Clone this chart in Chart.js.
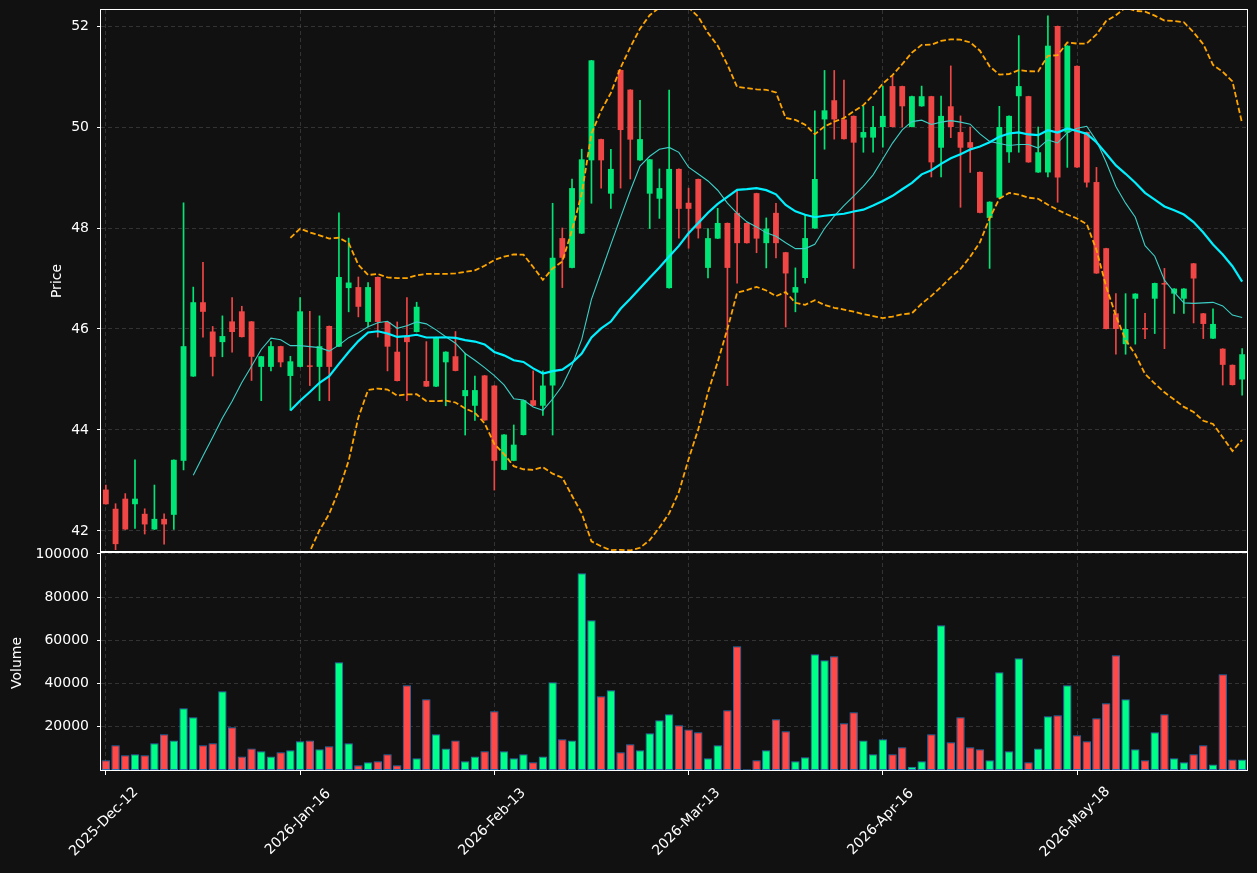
<!DOCTYPE html>
<html>
<head>
<meta charset="utf-8">
<title>Price and volume</title>
<script src="https://cdn.jsdelivr.net/npm/chart.js@4.4.1/dist/chart.umd.min.js"></script>
<style>
  html, body { margin: 0; padding: 0; background: #111111; }
  #wrap { width: 1257px; height: 873px; }
</style>
</head>
<body>
<div id="wrap"><canvas id="chart" width="1257" height="873"></canvas></div>
<script>
// dates shown on the x axis, one every 20 sessions
var anchorDates = ["2025-12-12", "2026-01-16", "2026-02-13", "2026-03-13", "2026-04-16", "2026-05-18"];

var openP = [
  42.82, 42.44, 42.64, 42.53, 42.34, 42.03, 42.24, 42.32, 43.39, 45.06,
  46.53, 45.95, 45.74, 46.15, 46.35, 46.15, 45.25, 45.25, 45.66, 45.07,
  45.25, 45.27, 45.25, 46.06, 45.65, 46.81, 46.83, 46.14, 47.03, 46.14,
  45.55, 45.86, 45.94, 44.97, 44.86, 45.34, 45.46, 44.67, 44.48, 45.08,
  44.88, 43.21, 43.39, 43.90, 44.59, 44.48, 44.88, 47.80, 47.21, 47.89,
  49.34, 49.76, 48.68, 51.13, 50.74, 49.34, 48.68, 48.58, 46.81, 49.17,
  48.50, 48.97, 47.21, 47.79, 48.10, 48.30, 48.10, 48.69, 47.70, 48.30,
  47.52, 46.72, 47.01, 47.99, 50.15, 50.53, 50.15, 50.22, 49.79, 49.79,
  50.00, 50.81, 50.81, 50.00, 50.41, 50.61, 49.59, 50.41, 49.90, 49.70,
  49.11, 48.20, 48.60, 49.50, 50.61, 50.61, 49.10, 49.10, 52.00, 49.89,
  51.21, 49.90, 48.91, 47.60, 46.31, 45.70, 46.60, 46.01, 46.60, 46.90,
  46.70, 46.60, 47.30, 46.31, 45.81, 45.61, 45.29, 45.00
];
var highP = [
  42.91, 42.54, 42.74, 43.41, 42.44, 42.91, 42.34, 43.41, 48.50, 46.83,
  47.32, 46.05, 46.26, 46.62, 46.45, 46.15, 45.46, 45.75, 45.66, 45.46,
  46.62, 46.35, 46.26, 46.06, 48.30, 47.80, 47.03, 46.92, 47.03, 46.14,
  46.14, 46.62, 46.53, 45.75, 45.84, 45.55, 45.95, 45.52, 45.07, 45.08,
  44.88, 43.91, 44.10, 44.59, 45.17, 45.17, 48.49, 48.00, 48.97, 49.56,
  51.32, 49.76, 49.56, 51.13, 50.74, 50.53, 49.36, 49.17, 50.73, 49.17,
  48.79, 48.97, 47.99, 48.39, 48.10, 48.76, 48.10, 48.69, 48.20, 48.49,
  47.52, 47.21, 48.26, 50.32, 51.12, 51.12, 50.93, 50.22, 50.41, 50.41,
  50.81, 51.01, 50.81, 50.61, 50.81, 50.61, 50.61, 51.21, 50.22, 50.00,
  49.11, 48.52, 50.41, 50.22, 51.81, 50.61, 50.00, 52.20, 52.00, 51.61,
  51.21, 49.90, 49.20, 47.60, 46.70, 46.70, 46.70, 46.31, 46.91, 47.20,
  46.80, 46.80, 47.30, 46.31, 46.40, 45.61, 45.29, 45.61
];
var lowP = [
  42.53, 41.63, 42.03, 42.05, 41.94, 42.03, 41.74, 42.03, 43.21, 45.06,
  45.84, 45.07, 45.45, 45.54, 45.84, 44.98, 44.58, 45.17, 45.25, 44.39,
  45.25, 44.88, 44.58, 44.58, 45.65, 46.34, 46.24, 46.04, 45.84, 45.17,
  44.97, 44.58, 45.94, 44.86, 44.86, 44.48, 45.17, 43.90, 44.19, 44.19,
  42.81, 43.21, 43.39, 43.90, 44.48, 44.29, 43.90, 46.82, 47.21, 47.89,
  48.49, 48.79, 48.39, 48.79, 48.97, 49.34, 47.99, 48.19, 46.81, 47.80,
  47.60, 47.80, 47.01, 47.79, 44.88, 46.91, 47.70, 47.51, 47.21, 47.41,
  46.04, 46.34, 46.91, 47.99, 49.56, 49.76, 49.76, 47.20, 49.50, 49.50,
  49.60, 50.00, 50.00, 50.00, 50.41, 49.01, 49.01, 49.79, 48.41, 49.10,
  48.30, 47.20, 48.60, 49.30, 49.50, 49.30, 49.10, 49.01, 48.51, 49.20,
  49.20, 48.81, 47.10, 46.00, 45.50, 45.50, 45.70, 45.81, 45.91, 45.61,
  46.31, 46.31, 46.12, 45.81, 45.81, 44.89, 44.89, 44.69
];
var closeP = [
  42.53, 41.74, 42.03, 42.64, 42.13, 42.24, 42.13, 43.41, 45.66, 46.53,
  46.34, 45.45, 45.86, 45.94, 45.84, 45.45, 45.46, 45.66, 45.34, 45.36,
  46.35, 45.25, 45.66, 45.25, 47.03, 46.92, 46.44, 46.83, 46.14, 45.65,
  44.97, 45.74, 46.44, 44.86, 45.84, 45.55, 45.17, 44.79, 44.79, 44.19,
  43.39, 43.91, 43.71, 44.59, 44.48, 44.88, 47.41, 47.41, 48.79, 49.36,
  51.32, 49.34, 49.17, 49.94, 49.75, 49.76, 49.36, 48.79, 49.17, 48.38,
  48.38, 47.99, 47.80, 48.10, 47.21, 47.70, 47.70, 47.79, 47.99, 47.70,
  47.10, 46.83, 47.80, 48.97, 50.33, 50.15, 49.76, 49.69, 49.90, 50.00,
  50.22, 50.00, 50.41, 50.61, 50.61, 49.30, 50.22, 50.00, 49.59, 49.59,
  48.30, 48.52, 50.00, 50.22, 50.81, 49.30, 49.50, 51.61, 49.00, 51.61,
  49.20, 48.90, 47.10, 46.00, 46.00, 46.00, 46.70, 45.99, 46.91, 46.88,
  46.80, 46.80, 47.00, 46.10, 46.10, 45.29, 44.89, 45.50
];
var volume = [
  4500, 11400, 6800, 7300, 6800, 12400, 16500, 13700, 28600, 24400,
  11400, 12400, 36400, 19800, 6300, 10000, 8700, 6300, 8200, 9100,
  13300, 13700, 9600, 11000, 49900, 12400, 2200, 3600, 4000, 7300,
  2200, 39200, 5400, 32700, 16500, 10000, 13700, 4000, 6300, 8700,
  27200, 8700, 5400, 7300, 3600, 6300, 40600, 14200, 13700, 91100,
  69300, 34100, 36900, 8200, 11900, 9100, 17000, 23000, 25800, 20700,
  18800, 17500, 5400, 11400, 27600, 57300, 300, 4500, 9100, 23500,
  17900, 4000, 5900, 53600, 50800, 52700, 21600, 26700, 13700, 7300,
  14200, 7300, 10500, 1500, 4000, 16500, 67000, 12800, 24400, 10500,
  9600, 4500, 45200, 8700, 51700, 3600, 10000, 24900, 25300, 39200,
  16100, 13300, 23900, 30900, 53100, 32700, 9600, 4500, 17500, 25800,
  5400, 3600, 7300, 11400, 2600, 44300, 4900, 4900
];

var priceTicks = [42, 44, 46, 48, 50, 52];
var volumeTicks = [20000, 40000, 60000, 80000, 100000];

var monthNames = ["Jan", "Feb", "Mar", "Apr", "May", "Jun", "Jul", "Aug", "Sep", "Oct", "Nov", "Dec"];
function fmtDate(d) {
  return d.getUTCFullYear() + "-" + monthNames[d.getUTCMonth()] + "-" + ("0" + d.getUTCDate()).slice(-2);
}
// one trading-day label per bar, counted on from the nearest anchor
var dateLabels = [];
for (var i = 0; i < closeP.length; i++) {
  var d = new Date(anchorDates[Math.floor(i / 20)] + "T00:00:00Z"),
    n = i % 20;
  while (n > 0) {
    d.setUTCDate(d.getUTCDate() + 1);
    if (d.getUTCDay() !== 0 && d.getUTCDay() !== 6) n--;
  }
  dateLabels.push(fmtDate(d));
}

function sma(arr, len) {
  return arr.map(function (v, i) {
    if (i < len - 1) return null;
    var s = 0;
    for (var k = i - len + 1; k <= i; k++) s += arr[k];
    return s / len;
  });
}
function band(arr, len, mult) {
  var mid = sma(arr, len);
  return arr.map(function (v, i) {
    if (mid[i] === null) return null;
    var s = 0;
    for (var k = i - len + 1; k <= i; k++) s += Math.pow(arr[k] - mid[i], 2);
    return mid[i] + mult * Math.sqrt(s / len);
  });
}

var upCol = "#00e676", downCol = "#f04646";
var volUp = "#00ff88", volDown = "#ff4848";
var isUp = closeP.map(function (c, i) { return c >= openP[i]; });

var gridCol = "rgba(140,140,140,0.28)";

// keep each dataset inside its own panel
var panelClip = {
  id: "panelClip",
  beforeDatasetDraw: function (chart, args) {
    var ys = chart.scales[args.meta.yAxisID], a = chart.chartArea, ctx = chart.ctx;
    ctx.save();
    ctx.beginPath();
    ctx.rect(a.left, ys.top, a.right - a.left, ys.bottom - ys.top);
    ctx.clip();
  },
  afterDatasetDraw: function (chart) {
    chart.ctx.restore();
  }
};

var frame = {
  id: "frame",
  afterDraw: function (chart) {
    var ctx = chart.ctx, a = chart.chartArea, xs = chart.scales.x;
    ctx.save();
    ctx.strokeStyle = "#ffffff";
    ctx.lineWidth = 1;
    ["y", "yv"].forEach(function (id) {
      var s = chart.scales[id];
      ctx.strokeRect(a.left - 0.5, Math.round(s.top) - 0.5, a.right - a.left + 1, Math.round(s.bottom - s.top) + 1);
    });
    ctx.fillStyle = "#ffffff";
    ctx.font = '14px "DejaVu Sans"';
    ctx.textAlign = "center";
    ctx.textBaseline = "middle";
    xs.ticks.forEach(function (t) {
      ctx.save();
      ctx.translate(xs.getPixelForValue(t.value) - 2, 822);
      ctx.rotate(-Math.PI / 4);
      ctx.fillText(dateLabels[t.value], 0, 0);
      ctx.restore();
    });
    var titles = [["Price", 57, (chart.scales.y.top + chart.scales.y.bottom) / 2],
                  ["Volume", 17, (chart.scales.yv.top + chart.scales.yv.bottom) / 2 + 2]];
    titles.forEach(function (t) {
      ctx.save();
      ctx.translate(t[1], t[2]);
      ctx.rotate(-Math.PI / 2);
      ctx.fillText(t[0], 0, 0);
      ctx.restore();
    });
    ctx.restore();
  }
};

function fixWidth(s) {
  s.width = 101;
  s.paddingTop = 0;
  s.paddingBottom = 0;
}

new Chart(document.getElementById("chart"), {
  type: "bar",
  data: {
    labels: dateLabels,
    datasets: [
      {
        type: "line", label: "MA20", data: sma(closeP, 20), yAxisID: "y",
        borderColor: "#00f0ff", borderWidth: 2.2, pointRadius: 0, order: 0
      },
      {
        type: "line", label: "MA10", data: sma(closeP, 10), yAxisID: "y",
        borderColor: "#3ccfc6", borderWidth: 1.1, pointRadius: 0, order: 0
      },
      {
        type: "line", label: "BB upper", data: band(closeP, 20, 2), yAxisID: "y",
        borderColor: "#ffa500", borderWidth: 1.8, borderDash: [5.5, 2.6], pointRadius: 0, order: 0
      },
      {
        type: "line", label: "BB lower", data: band(closeP, 20, -2), yAxisID: "y",
        borderColor: "#ffa500", borderWidth: 1.8, borderDash: [5.5, 2.6], pointRadius: 0, order: 0
      },
      {
        label: "Body", yAxisID: "y", grouped: false, order: 1,
        data: openP.map(function (o, i) { return [o, closeP[i]]; }),
        backgroundColor: isUp.map(function (u) { return u ? upCol : downCol; }),
        barPercentage: 0.6, categoryPercentage: 1, minBarLength: 1.5, borderWidth: 0
      },
      {
        label: "Wick", yAxisID: "y", grouped: false, order: 2,
        data: lowP.map(function (l, i) { return [l, highP[i]]; }),
        backgroundColor: isUp.map(function (u) { return u ? upCol : downCol; }),
        barThickness: 1, borderWidth: 0
      },
      {
        label: "Volume", yAxisID: "yv", grouped: false, order: 3,
        data: volume,
        backgroundColor: isUp.map(function (u) { return u ? volUp : volDown; }),
        borderColor: "#2a6fb2", borderWidth: 1, borderSkipped: false,
        barPercentage: 0.87, categoryPercentage: 1
      }
    ]
  },
  options: {
    responsive: false,
    animation: false,
    layout: { padding: { top: 10, right: 10, left: 0, bottom: 0 } },
    plugins: { legend: { display: false }, tooltip: { enabled: false } },
    scales: {
      x: {
        type: "category",
        offset: true,
        grid: { offset: false, color: gridCol, tickColor: "#ffffff", tickLength: 5 },
        border: { display: false, dash: [4, 3] },
        ticks: { display: false, autoSkip: false },
        afterBuildTicks: function (s) {
          s.ticks = s.ticks.filter(function (t) { return t.value % 20 === 0; });
        },
        afterFit: function (s) {
          s.height = 103;
          s.paddingLeft = 0;
          s.paddingRight = 0;
        }
      },
      y: {
        position: "left", stack: "panels", stackWeight: 542, weight: 1,
        min: 41.584, max: 52.317,
        grid: { color: gridCol, tickColor: "#ffffff", tickLength: 4 },
        border: { display: false, dash: [4, 3] },
        ticks: {
          color: "#ffffff", padding: 8, font: { family: "DejaVu Sans", size: 14 },
          callback: function (v) { return String(v); }
        },
        afterBuildTicks: function (s) {
          s.ticks = priceTicks.map(function (v) { return { value: v }; });
        },
        afterFit: fixWidth
      },
      yv: {
        position: "left", stack: "panels", stackWeight: 218, weight: 0,
        min: 0, max: 100900,
        grid: { color: gridCol, tickColor: "#ffffff", tickLength: 4 },
        border: { display: false, dash: [4, 3] },
        ticks: {
          color: "#ffffff", padding: 8, font: { family: "DejaVu Sans", size: 14 },
          callback: function (v) { return String(v); }
        },
        afterBuildTicks: function (s) {
          s.ticks = volumeTicks.map(function (v) { return { value: v }; });
        },
        afterFit: fixWidth
      }
    }
  },
  plugins: [panelClip, frame]
});
</script>
</body>
</html>
